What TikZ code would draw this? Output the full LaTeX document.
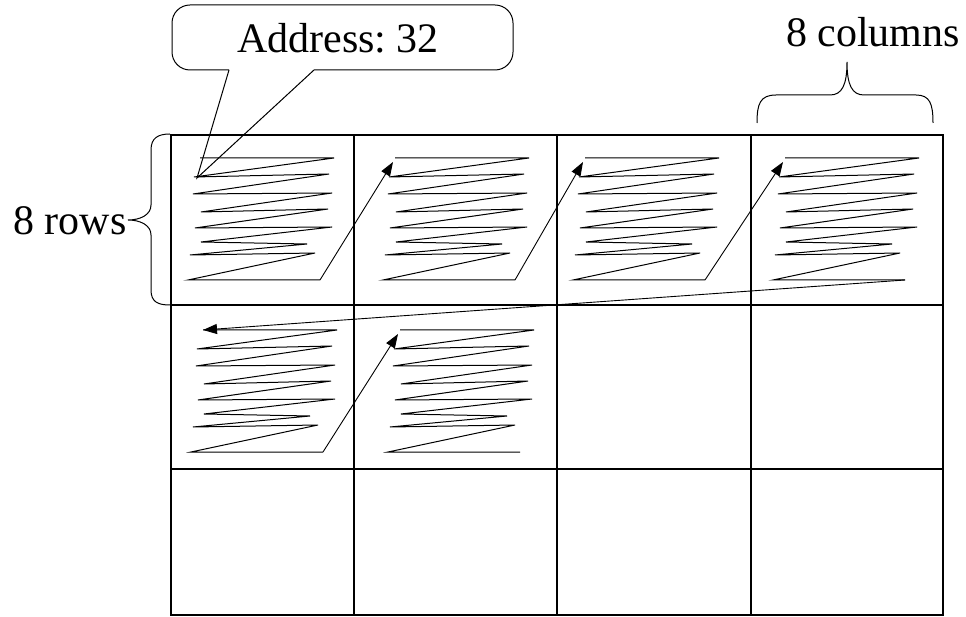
\documentclass[tikz,border=0pt]{standalone}
\usepackage{fontspec}
\setmainfont{Liberation Serif}
\usetikzlibrary{arrows.meta}
\frenchspacing

% one cell's raster-scan scribble, with named entry/exit points
\newcommand\scanscribble[2]{%
  \begin{scope}[shift={#2}]
    \draw[scan] (0,0) -- (134,0) -- (-6,19) -- (129,16) -- (-7,36) -- (132,35)
      -- (1,54) -- (128,51) -- (-5,70) -- (132,69) -- (1,84) -- (107,86)
      -- (-10,97) -- (115,95) -- (-12,122) -- (120,122);
    \coordinate (#1-top) at (0,0);
    \coordinate (#1-in) at (-2,4);
    \coordinate (#1-row2) at (-3,20);
    \coordinate (#1-out) at (120,122);
  \end{scope}}

\begin{document}
\begin{tikzpicture}[x=1pt,y=-1pt,
  scan/.style={line width=1pt, line join=miter},
  hop/.style={line width=0.9pt, -{Triangle[length=14pt,width=10pt]}},
  label/.style={font=\fontsize{42}{48}\selectfont, inner sep=0pt, anchor=base},
  outer/.style={line width=2.5pt},
  inner/.style={line width=1.3pt},
  brace/.style={line width=1pt}]
\useasboundingbox (0,0) rectangle (966,617);

% memory grid: 4 columns x 3 rows of blocks
\draw[inner] (354,135) -- (354,615) (557,135) -- (557,615) (751,135) -- (751,615);
\draw[inner] (171,305) -- (943,305) (171,469) -- (943,469);
\draw[outer] (171,135) rectangle (943,615);

% scribbles inside the filled blocks
\scanscribble{c1}{(200,158)}
\scanscribble{c2}{(395,158)}
\scanscribble{c3}{(585,158)}
\scanscribble{c4}{(785,158)}
\scanscribble{c5}{(203,330)}
\scanscribble{c6}{(400,330)}

% jumps from one block to the next
\draw[hop] (c1-out) -- (c2-in);
\draw[hop] (c2-out) -- (c3-in);
\draw[hop] (c3-out) -- (c4-in);
\draw[hop] (c4-out) -- (c5-top);
\draw[hop] (c5-out) -- (c6-in);

% address callout
\node[label] (addr) at (338,53) {Address: 32};
\draw[line width=1pt] (229,70) -- (c1-row2) -- (314,70)
  {[rounded corners=18pt] -- (513,70) -- (513,5) -- (172,5) -- (172,70)} -- (229,70);

% column brace
\node[label] (cols) at (873,47) {8 columns};
\coordinate (cb-l) at (757,123);
\coordinate (cb-t) at (847,62);
\coordinate (cb-r) at (933,123);
\draw[brace] (cb-l) .. controls (757,104) and (760,95) .. (776,95) -- (830,95)
  .. controls (842,95) and (847,85) .. (cb-t)
  .. controls (847,85) and (852,95) .. (864,95) -- (916,95)
  .. controls (930,95) and (933,104) .. (cb-r);

% row brace
\node[label] (rows) at (70,235) {8 rows};
\coordinate (rb-t) at (170,134);
\coordinate (rb-m) at (128,220);
\coordinate (rb-b) at (170,305);
\draw[brace] (rb-t) .. controls (158,134) and (151,138) .. (151,150) -- (151,205)
  .. controls (151,215) and (140,220) .. (rb-m)
  .. controls (140,220) and (151,225) .. (151,235) -- (151,290)
  .. controls (151,302) and (158,305) .. (rb-b);
\end{tikzpicture}
\end{document}
